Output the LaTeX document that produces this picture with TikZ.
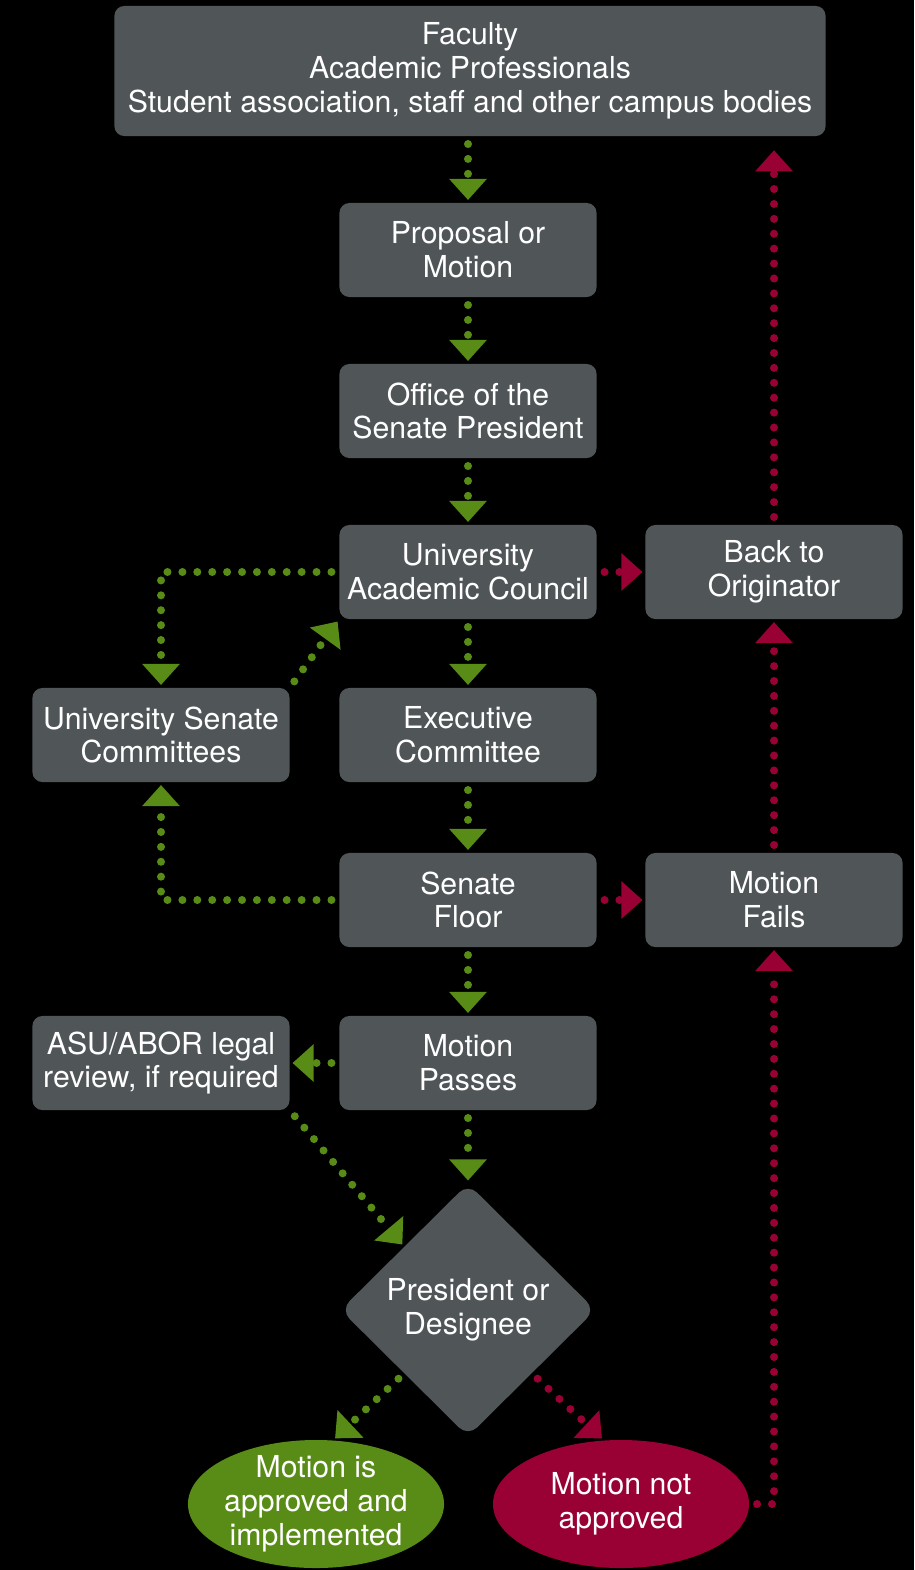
\documentclass[tikz,border=0pt]{standalone}
\usepackage{fontspec}
\setmainfont{TeX Gyre Heros}
\usetikzlibrary{arrows.meta, positioning, calc, shapes.geometric}
\definecolor{boxgray}{HTML}{505558}
\definecolor{gogreen}{HTML}{588C16}
\definecolor{stopred}{HTML}{990033}
\newcommand\midcol{468}
\newcommand\leftcol{161}
\newcommand\rightcol{774}

\begin{document}
\begin{tikzpicture}[x=0.025cm, y=-0.025cm,
    box/.style={rectangle, rounded corners=7pt, fill=boxgray, text=white, align=center,
        minimum width=6.425cm, minimum height=2.35cm, inner sep=0pt,
        font=\fontsize{21.5}{24}\selectfont},
    dmd/.style={diamond, rounded corners=9pt, fill=boxgray, text=white, align=center,
        minimum width=6.375cm, minimum height=6.325cm, inner sep=0pt,
        font=\fontsize{21.5}{24}\selectfont},
    oval/.style={ellipse, text=white, align=center, minimum width=6.4cm, minimum height=3.2cm,
        inner xsep=-4pt, inner ysep=-4pt, font=\fontsize{21.5}{24}\selectfont},
    gline/.style={draw=gogreen, line width=5.7pt, line cap=round, dash pattern=on 0pt off 10.6pt,
        -{Triangle[width=27pt, length=15pt, line width=0pt]}, shorten <=5.5pt, shorten >=2pt},
    rline/.style={gline, draw=stopred}]
    %Back
    \fill[black] (0,0) rectangle (914,1570);

    \node at (470, 71) [box, minimum width=17.775cm, minimum height=3.25cm] (origin) {Faculty\\Academic Professionals\\Student association, staff and other campus bodies};
    \node at (\midcol, 250) [box] (proposal) {Proposal or\\Motion};
    \node at (\midcol, 411) [box] (office) {Office of the\\Senate President};
    \node at (\midcol, 572) [box] (uac) {University\\Academic Council};
    \node at (\rightcol, 572) [box] (back) {Back to\\Originator};
    \node at (\leftcol, 735) [box] (usc) {University Senate\\Committees};
    \node at (\midcol, 735) [box] (exec) {Executive\\Committee};
    \node at (\midcol, 900) [box] (floor) {Senate\\Floor};
    \node at (\rightcol, 900) [box] (fails) {Motion\\Fails};
    \node at (\leftcol, 1063) [box] (legal) {ASU/ABOR legal\\review, if required};
    \node at (\midcol, 1063) [box] (passes) {Motion\\Passes};
    \node at (\midcol, 1310) [dmd] (pres) {President or\\Designee};
    \node at (316, 1504) [oval, fill=gogreen] (ok) {Motion is\\approved and\\implemented};
    \node at (621, 1504) [oval, fill=stopred] (notok) {Motion not\\approved};

    %Down the middle
    \draw[gline] (proposal |- origin.south) -- (proposal.north);
    \draw[gline] (proposal.south) -- (office.north);
    \draw[gline] (office.south) -- (uac.north);
    \draw[gline] (uac.south) -- (exec.north);
    \draw[gline] (exec.south) -- (floor.north);
    \draw[gline] (floor.south) -- (passes.north);
    \draw[gline] (passes.south) -- (pres.north);

    %Committees
    \draw[gline] (uac.west) -| (usc.north);
    \draw[gline] (usc.north east) -- (uac.south west);
    \draw[gline] (floor.west) -| (usc.south);

    %Legal review
    \draw[gline] (passes.west) -- (legal.east);
    \draw[gline] (legal.south east) -- (pres.north west);

    %Outcome
    \draw[gline] (pres.south west) -- (ok.75);
    \draw[rline] (pres.south east) -- (notok.105);

    %Back to originator
    \draw[rline] (uac.east) -- (back.west);
    \draw[rline] (floor.east) -- (fails.west);
    \draw[rline] (notok.east) -| (fails.south);
    \draw[rline] (fails.north) -- (back.south);
    \draw[rline, shorten >=10pt] (back.north) -- (back |- origin.south);
\end{tikzpicture}
\end{document}
